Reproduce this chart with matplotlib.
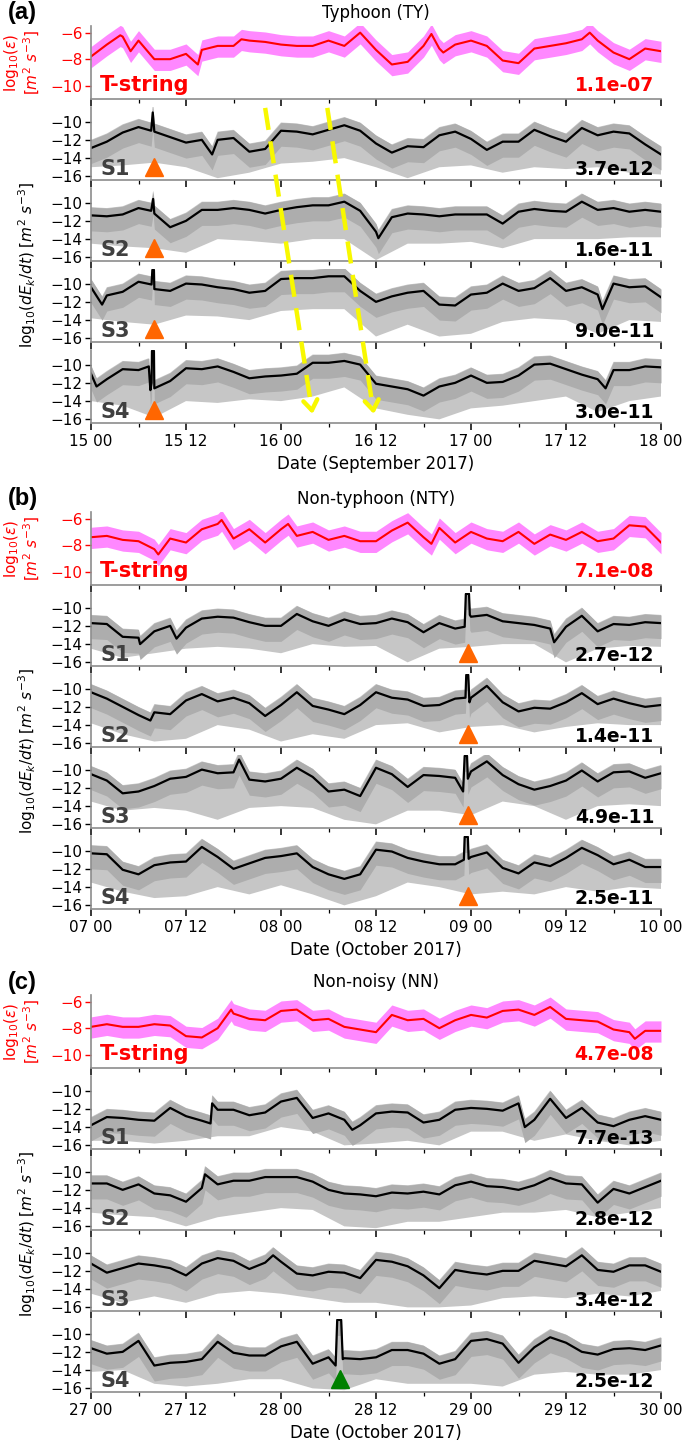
import numpy as np
import matplotlib
matplotlib.use("Agg")
import matplotlib.pyplot as plt
import matplotlib.dates as mdates
from matplotlib.lines import Line2D
from datetime import datetime

# ---------------- data ----------------
HOURS_LINE = list(range(0, 73, 2))   # smoothed-line samples, every 2 h
HOURS_LOW = list(range(0, 73, 4))    # lower envelope of raw data, every 4 h

# ---- (a) Typhoon, 15-18 September 2017
TY_TSTRING = [-7.8, -6.9, -6.3, -6.6, -8.0, -8.0, -7.6, -7.3, -7.0, -7.0, -6.6, -6.7, -6.9,
              -7.0, -7.0, -6.6, -7.0, -6.0, -7.3, -8.4, -8.2, -7.0, -7.2, -6.9, -6.6, -7.0,
              -8.1, -8.3, -7.2, -7.0, -6.8, -6.5, -6.6, -7.5, -8.0, -7.2, -7.4]
TY_T_EXTRA = [(3.7, -6.2), (5.0, -7.4), (13.5, -8.4), (19.0, -6.5), (43.0, -6.1), (44.5, -7.5),
              (63.0, -6.0)]
TY_S1 = [-12.9, -12.2, -11.2, -10.6, -11.1, -11.7, -12.3, -12.0, -12.0, -11.8, -13.3, -13.0, -11.0,
         -11.1, -11.4, -10.9, -10.4, -11.0, -12.4, -13.4, -12.7, -12.8, -11.5, -11.1, -11.9, -13.1,
         -12.2, -12.2, -10.9, -11.6, -12.2, -10.7, -11.5, -11.1, -11.3, -12.5, -13.6]
TY_S1_EXTRA = [(7.6, -11.0), (7.8, -9.0), (15.3, -13.6)]
TY_S1_LOW = [-15.0, -14.8, -14.5, -15.0, -16.2, -15.6, -14.6, -14.4, -14.0, -15.0, -16.2, -15.0,
             -14.8, -15.6, -15.0, -15.2, -15.0, -15.6, -15.8]
TY_S2 = [-11.4, -11.5, -11.3, -10.6, -11.2, -12.7, -12.0, -10.8, -10.8, -10.6, -10.8, -11.2, -10.8,
         -10.5, -10.3, -10.3, -9.9, -10.9, -13.2, -11.6, -11.2, -11.3, -11.5, -11.3, -11.3, -11.3,
         -12.3, -11.0, -10.7, -10.9, -11.0, -9.9, -10.8, -10.6, -11.0, -10.8, -11.0]
TY_S2_EXTRA = [(7.6, -10.9), (7.85, -9.6), (36.3, -13.9)]
TY_S2_LOW = [-14.5, -14.8, -15.0, -15.5, -14.0, -14.2, -14.5, -14.0, -14.0, -16.3, -14.5, -14.5,
             -14.3, -15.0, -14.0, -14.0, -14.0, -13.8, -13.8]
TY_S3 = [-10.4, -11.3, -10.9, -9.8, -10.6, -10.8, -10.0, -10.1, -10.4, -10.6, -11.0, -10.8, -9.5,
         -9.4, -9.4, -9.2, -9.2, -10.8, -12.0, -11.4, -11.0, -10.8, -12.3, -12.4, -11.2, -11.0,
         -10.0, -10.8, -10.5, -9.4, -10.8, -10.4, -11.2, -10.0, -10.4, -10.3, -11.5]
TY_S3_EXTRA = [(1.4, -12.3), (7.65, -10.1), (7.75, -8.5), (7.95, -8.5), (64.6, -12.8)]
TY_S3_LOW = [-13.8, -14.2, -14.5, -13.5, -13.6, -14.0, -13.0, -12.8, -12.8, -15.8, -14.5, -15.8,
             -15.5, -14.2, -13.8, -14.0, -15.5, -14.0, -14.2]
TY_S4 = [-11.0, -11.6, -10.5, -10.6, -12.6, -11.8, -10.4, -10.5, -10.2, -10.8, -11.5, -11.3, -11.2,
         -11.0, -9.8, -9.8, -9.6, -10.0, -12.1, -12.4, -12.7, -13.4, -12.4, -12.0, -11.2, -12.0,
         -11.9, -11.2, -10.0, -9.9, -10.5, -11.1, -11.6, -10.6, -10.6, -10.2, -10.3]
TY_S4_EXTRA = [(0.7, -12.4), (7.3, -10.2), (7.5, -12.8), (7.65, -12.0), (7.7, -8.5), (7.95, -8.5),
               (65.0, -12.6)]
TY_S4_LOW = [-14.0, -14.5, -15.8, -14.0, -14.2, -13.8, -14.0, -13.5, -12.5, -14.8, -15.5, -16.0,
             -14.8, -14.5, -14.0, -13.5, -15.2, -14.0, -13.5]

# ---- (b) Non-typhoon, 07-10 October 2017
NTY_TSTRING = [-7.4, -7.3, -7.6, -7.7, -8.3, -7.5, -7.8, -6.8, -6.4, -7.5, -6.8, -7.8, -6.8,
               -7.3, -7.0, -7.6, -7.3, -7.7, -7.7, -6.9, -6.3, -7.4, -6.7, -7.8, -7.0, -7.5,
               -7.7, -7.0, -7.9, -7.2, -7.6, -7.0, -7.7, -7.5, -6.5, -6.6, -7.8]
NTY_T_EXTRA = [(8.5, -8.7), (16.5, -6.1), (24.9, -6.4), (43.0, -7.9)]
NTY_S1 = [-11.7, -11.8, -13.2, -13.3, -12.6, -12.0, -12.2, -11.2, -11.0, -11.1, -11.6, -12.0, -12.0,
          -10.7, -11.5, -12.0, -11.3, -11.8, -11.7, -11.2, -11.6, -12.7, -11.7, -12.3, -11.0, -10.8,
          -11.5, -11.7, -11.9, -12.3, -12.1, -10.9, -12.6, -11.8, -11.9, -11.6, -11.7]
NTY_S1_EXTRA = [(6.2, -14.0), (10.8, -13.4), (47.2, -12.1), (47.35, -8.5), (47.75, -8.5),
                (47.85, -10.8), (58.5, -13.8)]
NTY_S1_LOW = [-14.5, -15.5, -15.0, -14.5, -14.3, -14.5, -15.0, -14.0, -14.3, -14.2, -16.0, -14.5,
              -14.3, -14.0, -14.0, -16.0, -14.5, -14.2, -14.3]
NTY_S2 = [-10.4, -11.1, -12.0, -12.9, -12.6, -12.8, -11.3, -10.6, -11.4, -11.0, -11.6, -13.0, -11.8,
          -10.4, -11.9, -12.3, -12.8, -11.8, -10.4, -11.0, -11.2, -11.9, -11.8, -11.1, -11.0, -9.7,
          -11.5, -12.5, -12.1, -12.2, -11.5, -10.5, -11.7, -11.1, -11.6, -12.0, -11.8]
NTY_S2_EXTRA = [(7.5, -13.5), (47.3, -11.0), (47.4, -8.5), (47.65, -8.5), (47.8, -11.5)]
NTY_S2_LOW = [-13.8, -15.0, -15.8, -15.5, -14.0, -14.5, -15.8, -15.0, -15.5, -14.0, -13.8, -14.8,
              -14.2, -14.0, -14.8, -14.2, -13.8, -14.0, -14.0]
NTY_S3 = [-10.5, -11.2, -12.6, -12.4, -11.8, -11.0, -10.8, -10.0, -10.4, -10.3, -11.1, -11.3, -11.0,
          -9.8, -10.8, -12.4, -12.2, -12.9, -9.8, -10.5, -11.9, -10.6, -10.7, -10.9, -10.2, -9.1,
          -10.6, -11.6, -12.2, -11.8, -11.2, -10.1, -11.3, -10.3, -10.2, -10.9, -10.4]
NTY_S3_EXTRA = [(18.7, -8.9), (47.0, -12.4), (47.2, -8.5), (47.5, -8.5), (47.6, -11.0)]
NTY_S3_LOW = [-13.5, -14.5, -14.2, -14.5, -15.5, -14.2, -14.0, -14.2, -15.5, -16.0, -14.5, -14.5,
              -15.0, -13.5, -14.0, -15.5, -14.0, -13.8, -14.0]
NTY_S4 = [-10.3, -10.4, -12.1, -12.6, -11.6, -11.3, -11.2, -9.6, -10.7, -12.0, -11.4, -10.8, -10.6,
          -10.3, -11.8, -12.6, -13.1, -12.6, -9.9, -10.1, -10.8, -11.2, -11.5, -11.5, -10.7, -10.2,
          -11.9, -12.5, -11.3, -11.7, -10.8, -9.7, -10.5, -11.5, -11.0, -11.8, -11.8]
NTY_S4_EXTRA = [(47.1, -11.0), (47.2, -8.5), (47.6, -8.5), (47.7, -10.9)]
NTY_S4_LOW = [-13.5, -14.5, -15.2, -15.0, -14.0, -14.8, -13.8, -14.8, -16.0, -15.0, -13.5, -14.0,
              -14.8, -14.5, -14.8, -14.0, -14.5, -14.0, -14.2]

# ---- (c) Non-noisy, 27-30 October 2017
NN_TSTRING = [-7.9, -7.7, -7.9, -7.9, -7.7, -7.8, -8.6, -8.7, -8.0, -6.9, -7.3, -7.4, -6.7,
              -6.6, -7.4, -7.3, -7.9, -8.1, -8.3, -7.0, -7.4, -7.3, -8.0, -7.4, -7.0, -7.2,
              -6.7, -6.6, -7.0, -6.4, -7.3, -7.4, -7.5, -8.1, -8.3, -8.2, -8.2]
NN_T_EXTRA = [(17.7, -6.6), (68.7, -8.8)]
NN_S1 = [-13.8, -12.9, -13.0, -13.2, -13.3, -11.9, -12.8, -13.3, -12.1, -12.1, -12.7, -12.4, -11.2,
         -10.8, -13.0, -12.5, -13.2, -13.8, -12.5, -12.3, -12.4, -13.5, -13.2, -12.1, -11.9, -12.0,
         -12.2, -11.4, -13.2, -10.9, -13.0, -11.9, -13.5, -13.9, -13.2, -12.8, -13.2]
NN_S1_EXTRA = [(15.1, -13.6), (15.3, -11.4), (33.0, -14.3), (54.8, -14.0)]
NN_S1_LOW = [-15.5, -15.5, -15.8, -15.5, -15.0, -15.0, -14.0, -14.5, -16.0, -15.8, -15.5, -16.0,
             -14.5, -14.5, -15.5, -14.8, -15.5, -16.0, -15.5]
NN_S2 = [-11.3, -11.3, -12.0, -11.4, -12.4, -12.6, -13.3, -11.8, -11.4, -11.0, -11.0, -10.6, -10.6,
         -10.6, -11.1, -12.0, -12.4, -12.5, -12.7, -12.3, -12.4, -12.2, -12.5, -11.5, -11.1, -11.6,
         -11.7, -12.0, -11.5, -10.7, -11.3, -11.4, -13.4, -11.9, -12.4, -11.7, -11.0]
NN_S2_EXTRA = [(14.4, -10.3)]
NN_S2_LOW = [-14.5, -14.8, -15.0, -16.0, -15.0, -14.5, -14.0, -14.2, -16.0, -16.2, -15.5, -15.5,
             -15.0, -14.5, -14.5, -14.2, -15.0, -14.5, -14.0]
NN_S3 = [-11.2, -12.2, -11.7, -11.2, -11.4, -11.7, -12.5, -11.2, -10.6, -10.9, -11.8, -11.1, -11.0,
         -12.3, -12.5, -12.1, -12.2, -12.8, -10.8, -11.0, -11.5, -12.5, -13.9, -11.9, -12.2, -12.4,
         -12.0, -12.0, -10.9, -11.2, -11.5, -10.3, -11.9, -12.1, -11.4, -11.4, -12.1]
NN_S3_EXTRA = [(23.0, -10.3)]
NN_S3_LOW = [-14.5, -15.5, -14.8, -15.5, -14.5, -14.2, -14.5, -15.0, -15.5, -15.5, -16.0, -16.0,
             -15.8, -15.0, -14.8, -15.0, -14.5, -14.8, -14.2]
NN_S4 = [-11.6, -12.2, -12.0, -10.8, -13.5, -13.2, -13.1, -12.8, -10.9, -12.1, -12.4, -12.4, -11.4,
         -10.9, -13.3, -12.6, -12.7, -12.8, -12.6, -11.8, -11.8, -12.2, -13.3, -12.8, -10.8, -10.6,
         -11.1, -13.2, -11.5, -10.4, -11.0, -12.0, -12.3, -11.7, -11.6, -11.8, -11.3]
NN_S4_EXTRA = [(30.9, -13.5), (31.1, -8.5), (31.6, -8.5), (31.8, -12.8)]
NN_S4_LOW = [-14.2, -14.0, -15.5, -15.8, -15.5, -15.0, -15.0, -16.0, -16.2, -15.0, -15.5, -15.5,
             -15.5, -15.8, -14.5, -14.2, -14.5, -14.5, -14.0]

PANEL_LETTERS = ["(a)", "(b)", "(c)"]
PANEL_TITLES = ["Typhoon (TY)", "Non-typhoon (NTY)", "Non-noisy (NN)"]
PANEL_STARTS = [datetime(2017, 9, 15), datetime(2017, 10, 7), datetime(2017, 10, 27)]
PANEL_XLABELS = ["Date (September 2017)", "Date (October 2017)", "Date (October 2017)"]
ROW_NAMES = ["T-string", "S1", "S2", "S3", "S4"]
TY_VALUES = ["1.1e-07", "3.7e-12", "1.6e-11", "9.0e-11", "3.0e-11"]
NTY_VALUES = ["7.1e-08", "2.7e-12", "1.4e-11", "4.9e-11", "2.5e-11"]
NN_VALUES = ["4.7e-08", "7.7e-13", "2.8e-12", "3.4e-12", "2.5e-12"]
# event markers: (hour, rows)
TY_EVENT_HOUR, TY_EVENT_ROWS = 7.9, ["S1", "S2", "S3", "S4"]
NTY_EVENT_HOUR, NTY_EVENT_ROWS = 47.6, ["S1", "S2", "S3", "S4"]
NN_EVENT_HOUR, NN_EVENT_ROWS = 31.5, ["S4"]
EVENT_LEVEL = -15.0
# yellow arrows in (a): (start hour at S1 top, end hour at S4)
TY_ARROWS = [(22.0, 27.9), (29.85, 35.65)]
ARROW_Y_START, ARROW_Y_END = -8.5, -15.0

PANELS = [
    dict(t=(TY_TSTRING, TY_T_EXTRA),
         s=[(TY_S1, TY_S1_EXTRA, TY_S1_LOW), (TY_S2, TY_S2_EXTRA, TY_S2_LOW),
            (TY_S3, TY_S3_EXTRA, TY_S3_LOW), (TY_S4, TY_S4_EXTRA, TY_S4_LOW)],
         values=TY_VALUES, ev=(TY_EVENT_HOUR, TY_EVENT_ROWS, "#ff6600"), arrows=TY_ARROWS),
    dict(t=(NTY_TSTRING, NTY_T_EXTRA),
         s=[(NTY_S1, NTY_S1_EXTRA, NTY_S1_LOW), (NTY_S2, NTY_S2_EXTRA, NTY_S2_LOW),
            (NTY_S3, NTY_S3_EXTRA, NTY_S3_LOW), (NTY_S4, NTY_S4_EXTRA, NTY_S4_LOW)],
         values=NTY_VALUES, ev=(NTY_EVENT_HOUR, NTY_EVENT_ROWS, "#ff6600"), arrows=[]),
    dict(t=(NN_TSTRING, NN_T_EXTRA),
         s=[(NN_S1, NN_S1_EXTRA, NN_S1_LOW), (NN_S2, NN_S2_EXTRA, NN_S2_LOW),
            (NN_S3, NN_S3_EXTRA, NN_S3_LOW), (NN_S4, NN_S4_EXTRA, NN_S4_LOW)],
         values=NN_VALUES, ev=(NN_EVENT_HOUR, NN_EVENT_ROWS, "#008000"), arrows=[]),
]

# ---------------- layout / style ----------------
W, H = 685, 1446
LEFT, RIGHT = 91, 661
AX_H = 73
PITCH = 81
FIRST_SPINE = [99, 585, 1068]
GRAY_UP = 0.9
GRAY_CORE = 1.7
MAG_UP, MAG_DN = 0.75, 0.85
SPINE_C = "#8c8c8c"

plt.rcParams["font.family"] = ["DejaVu Sans"]
fig = plt.figure(figsize=(W / 100, H / 100), dpi=100)


def merged(start, values, extra, hours=HOURS_LINE):
    hrs = list(hours) + [e[0] for e in extra]
    vals = list(values) + [e[1] for e in extra]
    order = np.argsort(hrs, kind="stable")
    hrs = np.asarray(hrs, float)[order]
    vals = np.asarray(vals, float)[order]
    return mdates.date2num(start) + hrs / 24.0, vals


def style_axis(ax, start, bottom_row, xlabel):
    for side in ("top", "right"):
        ax.spines[side].set_visible(False)
    for side in ("left", "bottom"):
        ax.spines[side].set_color(SPINE_C)
        ax.spines[side].set_linewidth(1.2)
    x0 = mdates.date2num(start)
    ax.set_xlim(x0, x0 + 3.0)
    ax.xaxis.set_major_locator(mdates.HourLocator(byhour=[0, 12]))
    ax.xaxis.set_minor_locator(mdates.HourLocator(byhour=[6, 18]))
    ax.xaxis.set_major_formatter(mdates.DateFormatter("%d %H"))
    ax.tick_params(axis="x", which="major", direction="out", length=5, width=1.1,
                   labelsize=11, pad=3)
    ax.tick_params(axis="x", which="minor", direction="out", length=3, width=0.9)
    ax.tick_params(axis="y", direction="out", length=4, width=1.0, labelsize=11, pad=2)
    if not bottom_row:
        ax.tick_params(axis="x", which="both", labelbottom=False)
    else:
        ax.set_xlabel(xlabel, fontsize=12, labelpad=4)


for p, panel in enumerate(PANELS):
    start = PANEL_STARTS[p]
    axes = []
    for r in range(5):
        spine_y = FIRST_SPINE[p] + r * PITCH
        ax = fig.add_axes([LEFT / W, 1 - spine_y / H, (RIGHT - LEFT) / W, AX_H / H])
        axes.append(ax)
        style_axis(ax, start, r == 4, PANEL_XLABELS[p])
        if r == 0:
            vals, extra = panel["t"]
            t, v = merged(start, vals, extra)
            ax.fill_between(t, v - MAG_DN, v + MAG_UP, color="#ff88ff", lw=0)
            ax.plot(t, v, color="#ff0000", lw=1.5)
            ax.set_ylim(-11.0, -5.5)
            ax.set_yticks([-6, -8, -10])
            ax.tick_params(axis="y", labelcolor="#ff0000", colors="#ff0000")
            ax.set_title(PANEL_TITLES[p], fontsize=12, pad=6)
            ax.text(0.016, 0.19, "T-string", transform=ax.transAxes, fontsize=15,
                    fontweight="bold", color="#ff0000", va="center", ha="left")
            ax.text(0.988, 0.19, panel["values"][0], transform=ax.transAxes, fontsize=13.5,
                    fontweight="bold", color="#ff0000", va="center", ha="right")
        else:
            vals, extra, low = panel["s"][r - 1]
            t, v = merged(start, vals, extra)
            tl = mdates.date2num(start) + np.asarray(HOURS_LOW, float) / 24.0
            xs = np.concatenate([t, tl[::-1]])
            ys = np.concatenate([v + GRAY_UP, np.asarray(low)[::-1]])
            ax.fill(xs, ys, facecolor="#c6c6c6", lw=0)
            ax.fill_between(t, v - GRAY_CORE, v + GRAY_UP, color="#adadad", lw=0)
            ax.plot(t, v, color="black", lw=1.6)
            ax.set_ylim(-16.4, -8.4)
            ax.set_yticks([-10, -12, -14, -16])
            ax.text(0.016, 0.15, ROW_NAMES[r], transform=ax.transAxes, fontsize=15,
                    fontweight="bold", color="#404040", va="center", ha="left")
            ax.text(0.988, 0.15, panel["values"][r], transform=ax.transAxes, fontsize=13.5,
                    fontweight="bold", color="black", va="center", ha="right")
            ev_hour, ev_rows, ev_col = panel["ev"]
            if ROW_NAMES[r] in ev_rows:
                ax.plot([mdates.date2num(start) + ev_hour / 24.0], [EVENT_LEVEL], marker="^",
                        ms=13, color=ev_col, mec=ev_col, ls="none", clip_on=False, zorder=5)

    # panel letter
    top_px = FIRST_SPINE[p] - AX_H
    fig.text(8 / W, 1 - (top_px - 13) / H, PANEL_LETTERS[p], fontsize=17, fontweight="bold",
             family=["Liberation Sans", "DejaVu Sans"], ha="left", va="center")
    # y labels
    tcen = FIRST_SPINE[p] - AX_H / 2
    fig.text(22 / W, 1 - tcen / H, "log$_{10}$($\\epsilon$)\n[$m^2$ $s^{-3}$]", color="#ff0000",
             fontsize=11, rotation=90, ha="center", va="center", multialignment="center",
             linespacing=1.0)
    s_top = FIRST_SPINE[p] + PITCH - AX_H
    s_bot = FIRST_SPINE[p] + 4 * PITCH
    fig.text(27 / W, 1 - (s_top + s_bot) / 2 / H,
             "log$_{10}$($dE_k/dt$) [$m^2$ $s^{-3}$]", fontsize=11, rotation=90,
             ha="center", va="center")

    # yellow dashed arrows
    inv = fig.transFigure.inverted()
    for h0, h1 in panel["arrows"]:
        x0 = mdates.date2num(start) + h0 / 24.0
        x1 = mdates.date2num(start) + h1 / 24.0
        p0 = axes[1].transData.transform((x0, ARROW_Y_START))
        p1 = axes[4].transData.transform((x1, ARROW_Y_END))
        f0, f1 = inv.transform(p0), inv.transform(p1)
        fig.add_artist(Line2D([f0[0], f1[0]], [f0[1], f1[1]], transform=fig.transFigure,
                              color="#f8f800", lw=3.2, ls=(0, (5.0, 2.6)), zorder=10))
        d = np.array(p1) - np.array(p0)
        d = d / np.hypot(*d)
        nrm = np.array([-d[1], d[0]])
        for sgn in (1, -1):
            back = np.array(p1) - d * 10 + sgn * nrm * 7
            fb = inv.transform(back)
            fig.add_artist(Line2D([fb[0], f1[0]], [fb[1], f1[1]], transform=fig.transFigure,
                                  color="#f8f800", lw=3.2, solid_capstyle="round", zorder=10))

fig.savefig("out.png", dpi=100)
